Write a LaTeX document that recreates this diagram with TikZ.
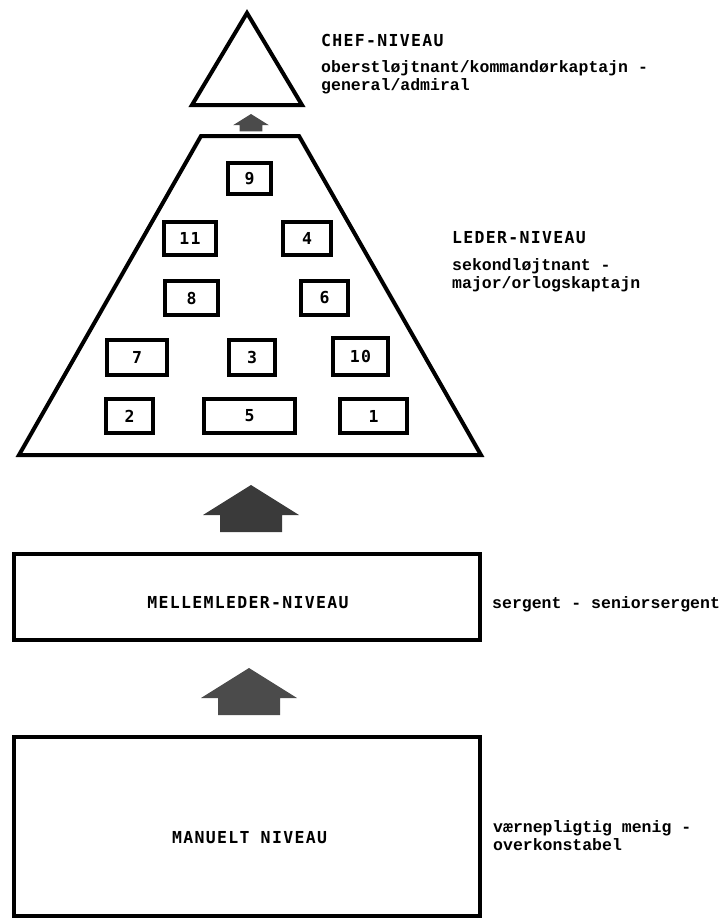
\documentclass[tikz,border=0pt]{standalone}
\usepackage{fontspec}
\usepackage{tikz}
\usetikzlibrary{calc}
\usetikzlibrary{positioning}

\newfontfamily\capsfont[LetterSpace=8]{DejaVu Sans Mono}
\newfontfamily\descfont{Liberation Mono}

\definecolor{arrowdark}{RGB}{58,58,58}
\definecolor{arrowlight}{RGB}{75,75,75}

\tikzset{
  tier/.style={draw,line width=4pt,line join=miter},
  numbox/.style={draw,line width=3.5pt,inner sep=0pt,font={\capsfont\bfseries\fontsize{16.5}{18}\selectfont}},
  title/.style={inner sep=0pt,font={\capsfont\bfseries\fontsize{16.5}{18}\selectfont}},
  desc/.style={inner sep=0pt,align=left,font={\descfont\bfseries\fontsize{16.5}{18}\selectfont}},
  uparrow/.pic={\fill (0,0) -- (48,30) -- (31,30) -- (31,47) -- (-31,47) -- (-31,30) -- (-48,30) -- cycle;}
}

\begin{document}
\begin{tikzpicture}[x=1pt,y=-1pt]
\useasboundingbox (0,0) rectangle (721,921);

% chef
\coordinate (apex) at (247,13);
\coordinate (chef left) at (192,105);
\coordinate (chef right) at (302,105);
\draw[tier] (apex) -- (chef right) -- (chef left) -- cycle;

\node[title,anchor=west] (chef) at (321,40) {CHEF-NIVEAU};
\node[desc,below=14pt of chef.south west,anchor=north west] (chef desc) {oberstløjtnant/kommandørkaptajn -\\general/admiral};

\pic[fill=arrowlight,scale=0.37] at (251,114) {uparrow};

% leder
\coordinate (pyr tl) at (201,136);
\coordinate (pyr tr) at (299,136);
\coordinate (pyr br) at (481,455);
\coordinate (pyr bl) at (19,455);
\draw[tier] (pyr tl) -- (pyr tr) -- (pyr br) -- (pyr bl) -- cycle;

\node[numbox,minimum width=43,minimum height=31] (b9) at (249.5,178.5) {9};
\node[numbox,minimum width=52,minimum height=33] (b11) at (190,238.5) {11};
\node[numbox,minimum width=48,minimum height=33] (b4) at (307,238.5) {4};
\node[numbox,minimum width=53,minimum height=34] (b8) at (191.5,298) {8};
\node[numbox,minimum width=47,minimum height=34] (b6) at (324.5,298) {6};
\node[numbox,minimum width=60,minimum height=35] (b7) at (137,357.5) {7};
\node[numbox,minimum width=46,minimum height=35] (b3) at (252,357.5) {3};
\node[numbox,minimum width=55,minimum height=37] (b10) at (360.5,356.5) {10};
\node[numbox,minimum width=47,minimum height=34] (b2) at (129.5,416) {2};
\node[numbox,minimum width=91,minimum height=34] (b5) at (249.5,416) {5};
\node[numbox,minimum width=67,minimum height=34] (b1) at (373.5,416) {1};

\node[title,anchor=west] (leder) at (452,238) {LEDER-NIVEAU};
\node[desc,below=14pt of leder.south west,anchor=north west] (leder desc) {sekondløjtnant -\\major/orlogskaptajn};

% mellemleder
\node[tier,minimum width=466,minimum height=86] (mid) at (247,597) {};
\node[title] (mid text) at (248,603) {MELLEMLEDER-NIVEAU};
\node[desc,anchor=base west] (mid desc) at (492,608) {sergent - seniorsergent};

\pic[fill=arrowdark] at ($(mid.north)+(4,-67)$) {uparrow};

% manuelt
\node[tier,minimum width=466,minimum height=179] (manual) at (247,826.5) {};
\node[title] (manual text) at (249.5,837.5) {MANUELT NIVEAU};
\node[desc,anchor=north west] (manual desc) at (493,820) {værnepligtig menig -\\overkonstabel};

\pic[fill=arrowlight] at ($(manual.north)+(2,-67)$) {uparrow};

\end{tikzpicture}
\end{document}
